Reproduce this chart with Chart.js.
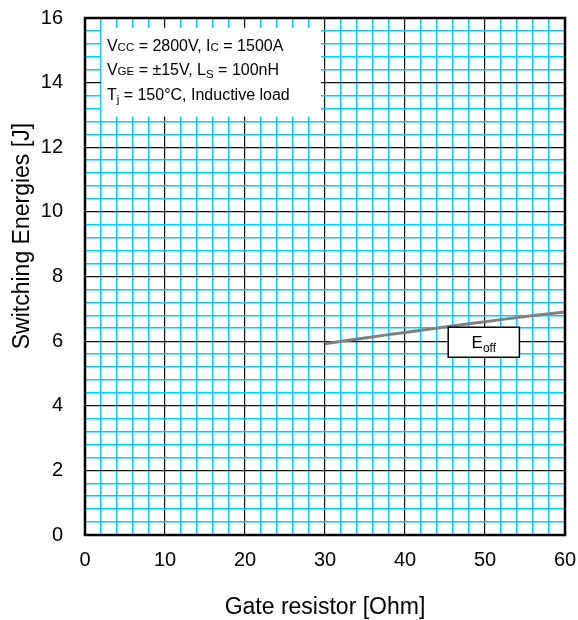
<!DOCTYPE html>
<html><head><meta charset="utf-8">
<script src="https://cdn.jsdelivr.net/npm/chart.js@4.4.0/dist/chart.umd.min.js"></script>
<style>html,body{margin:0;padding:0;background:#fff;}</style>
</head><body>
<canvas id="c" width="578" height="620"></canvas>
<script>
// ---- data ----
const xMajorTicks = [0, 10, 20, 30, 40, 50, 60];
const yMajorTicks = [0, 2, 4, 6, 8, 10, 12, 14, 16];
const xMinorStep = 2;
const yMinorStep = 0.4;
const gateResistor = [30, 35, 40, 45, 50, 55, 60];
const eoffEnergy = [5.92, 6.10, 6.27, 6.44, 6.60, 6.76, 6.90];
const seriesLabel = 'Eoff';
const xTitle = 'Gate resistor [Ohm]';
const yTitle = 'Switching Energies [J]';
const conditionLines = [
  [['V',0],['CC',1],[' = 2800V, I',0],['C',1],[' = 1500A',0]],
  [['V',0],['GE',1],[' = \u00b115V, L',0],['S',2],[' = 100nH',0]],
  [['T',0],['j',2],[' = 150\u00b0C, Inductive load',0]]
];
// annotation boxes in data units
const condBox = {x0: 2.05, x1: 29.5, y0: 15.7, y1: 12.95};
const labelBox = {x0: 45.4, x1: 54.3, y0: 6.43, y1: 5.5};
const yTitleCenterValue = 9.25;

const FONT = "'Liberation Sans', Arial, sans-serif";
const CYAN = 'rgb(0,204,255)';
const near = (arr, v) => arr.some(t => Math.abs(t - v) < 1e-6);

const dataPts = gateResistor.map((x, i) => ({x, y: eoffEnergy[i]}));

function drawSegments(ctx, segs, x, y, big, small, subShift) {
  let cx = x;
  for (const [t, kind] of segs) {
    const size = kind === 0 ? big : small;
    ctx.font = size + 'px ' + FONT;
    const dy = kind === 2 ? subShift : 0;
    ctx.fillText(t, cx, y + dy);
    cx += ctx.measureText(t).width;
  }
  return cx - x;
}
function measureSegments(ctx, segs, big, small) {
  let w = 0;
  for (const [t, kind] of segs) {
    ctx.font = (kind === 0 ? big : small) + 'px ' + FONT;
    w += ctx.measureText(t).width;
  }
  return w;
}

const decor = {
  id: 'decor',
  beforeDatasetsDraw(chart) {
    const {ctx, scales: {x, y}} = chart;
    ctx.save();
    ctx.fillStyle = '#fff';
    const l = x.getPixelForValue(condBox.x0), r = x.getPixelForValue(condBox.x1);
    const t = y.getPixelForValue(condBox.y0), b = y.getPixelForValue(condBox.y1);
    ctx.fillRect(l, t, r - l, b - t);
    ctx.restore();
  },
  afterDatasetsDraw(chart) {
    const {ctx, chartArea: a, scales: {x, y}} = chart;
    ctx.save();
    // condition text
    ctx.fillStyle = '#000';
    ctx.textBaseline = 'alphabetic';
    ctx.textAlign = 'left';
    const l = x.getPixelForValue(condBox.x0), t = y.getPixelForValue(condBox.y0);
    const offs = [23, 47, 72];
    conditionLines.forEach((segs, i) => drawSegments(ctx, segs, l + 5.5, t + offs[i], 16, 11.5, 3));
    // label box
    const bl = x.getPixelForValue(labelBox.x0), br = x.getPixelForValue(labelBox.x1);
    const bt = y.getPixelForValue(labelBox.y0), bb = y.getPixelForValue(labelBox.y1);
    ctx.fillStyle = '#fff';
    ctx.fillRect(bl, bt, br - bl, bb - bt);
    ctx.strokeStyle = '#000';
    ctx.lineWidth = 1.5;
    ctx.strokeRect(bl, bt, br - bl, bb - bt);
    ctx.fillStyle = '#000';
    const segs = [[seriesLabel.slice(0,1),0],[seriesLabel.slice(1),2]];
    const w = measureSegments(ctx, segs, 17, 12);
    drawSegments(ctx, segs, (bl + br) / 2 - w / 2, (bt + bb) / 2 + 6, 17, 12, 4);
    // frame
    ctx.strokeStyle = '#000';
    ctx.lineWidth = 2.5;
    ctx.strokeRect(a.left, a.top, a.right - a.left, a.bottom - a.top);
    // y axis title
    ctx.translate(y.left + 13, y.getPixelForValue(yTitleCenterValue));
    ctx.rotate(-Math.PI / 2);
    ctx.font = '23px ' + FONT;
    ctx.textAlign = 'center';
    ctx.textBaseline = 'middle';
    ctx.fillText(yTitle, 0, 0);
    ctx.restore();
  }
};

new Chart(document.getElementById('c'), {
  type: 'scatter',
  data: {
    datasets: [{
      label: seriesLabel,
      data: dataPts,
      showLine: true,
      borderColor: '#808080',
      borderWidth: 3,
      pointRadius: 0,
      tension: 0.2
    }]
  },
  options: {
    responsive: false,
    devicePixelRatio: 1,
    animation: false,
    layout: {padding: {left: 10, right: 13, top: 18, bottom: 1}},
    plugins: {legend: {display: false}, tooltip: {enabled: false}},
    scales: {
      x: {
        type: 'linear',
        min: xMajorTicks[0], max: xMajorTicks[xMajorTicks.length - 1],
        afterFit(s) { s.height = 84; s.paddingLeft = 0; s.paddingRight = 0; },
        border: {display: false},
        grid: {
          drawTicks: false,
          color: c => near(xMajorTicks, c.tick.value) ? '#111' : CYAN,
          lineWidth: c => near(xMajorTicks, c.tick.value) ? 1.2 : 1.5
        },
        ticks: {
          stepSize: xMinorStep, autoSkip: false, maxRotation: 0, padding: 13,
          color: '#000', font: {family: FONT, size: 20},
          callback: v => near(xMajorTicks, v) ? String(Math.round(v)) : ''
        },
        title: {display: true, text: xTitle, color: '#000', padding: 0,
          font: {family: FONT, size: 23, lineHeight: 1}}
      },
      y: {
        type: 'linear',
        min: yMajorTicks[0], max: yMajorTicks[yMajorTicks.length - 1],
        afterFit(s) { s.width = 75; s.paddingTop = 0; s.paddingBottom = 0; },
        border: {display: false},
        grid: {
          drawTicks: false,
          color: c => near(yMajorTicks, c.tick.value) ? '#111' : CYAN,
          lineWidth: c => near(yMajorTicks, c.tick.value) ? 1.2 : 1.5
        },
        ticks: {
          stepSize: yMinorStep, autoSkip: false, padding: 22,
          color: '#000', font: {family: FONT, size: 20},
          callback: v => near(yMajorTicks, v) ? String(Math.round(v)) : ''
        },
        title: {display: false, text: yTitle}
      }
    }
  },
  plugins: [decor]
});
</script>
</body></html>
